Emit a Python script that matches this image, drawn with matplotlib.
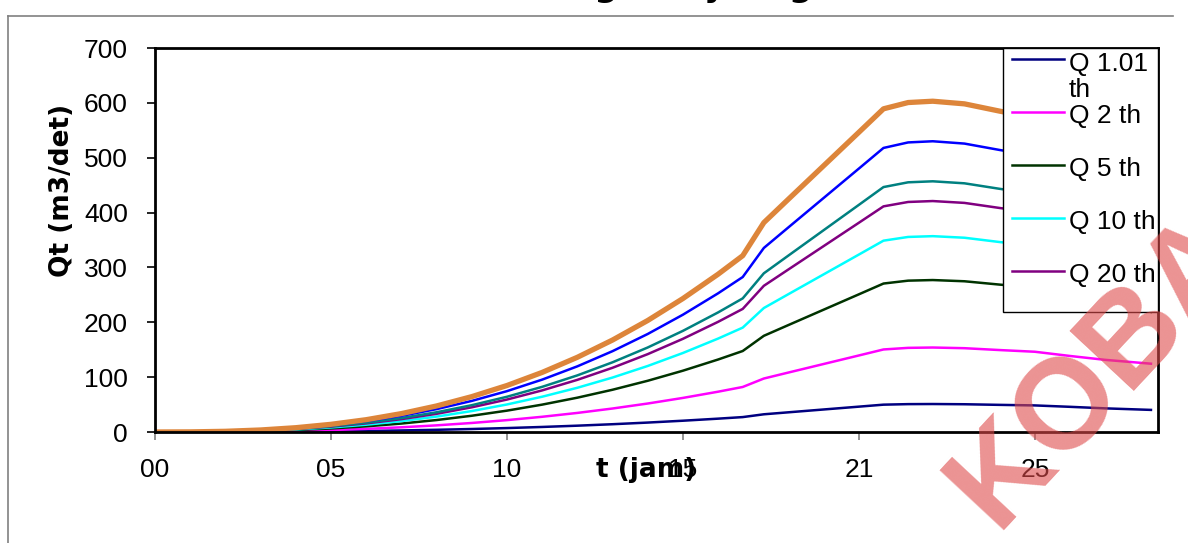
import matplotlib.pyplot as plt
import matplotlib.transforms as mtransforms
from matplotlib.lines import Line2D
from matplotlib.patches import Rectangle

# waktu (jam) dan debit hidrograf tiap kala ulang (m3/det)
jam = [0, 1, 2, 3, 4, 5, 6, 7, 8, 9, 10, 11, 12, 13, 14, 15, 16, 16.7, 17.3,
       18, 19, 20, 20.7, 21.4, 22.1, 23, 24, 25, 26, 27, 28.3]

q_1_01 = [0, 0.02, 0.11, 0.31, 0.66, 1.18, 1.9, 2.84, 4.01, 5.45, 7.17, 9.19,
          11.52, 14.18, 17.19, 20.57, 24.33, 27.18, 32.28, 35.9, 41.06, 46.21,
          49.83, 50.8, 51.0, 50.59, 49.47, 48.45, 45.9, 43.1, 40.29]
q_2 = [0, 0.06, 0.32, 0.94, 2.0, 3.57, 5.73, 8.56, 12.12, 16.46, 21.64, 27.74,
       34.77, 42.81, 51.91, 62.12, 73.46, 82.08, 97.48, 108.42, 123.97, 139.52,
       150.46, 153.38, 154.0, 152.77, 149.38, 146.3, 138.6, 131.5, 124.5]
q_5 = [0, 0.11, 0.58, 1.69, 3.6, 6.43, 10.3, 15.4, 21.8, 29.61, 38.92, 49.89,
       62.55, 77.01, 93.38, 111.74, 132.13, 147.64, 175.34, 195.01, 222.99,
       250.96, 270.63, 275.89, 277.0, 274.78, 268.69, 263.15, 249.3, 234.07,
       218.83]
q_10 = [0, 0.14, 0.75, 2.18, 4.64, 8.28, 13.28, 19.85, 28.1, 38.16, 50.16,
        64.3, 80.61, 99.25, 120.34, 144.01, 170.29, 190.28, 225.98, 251.33,
        287.39, 323.44, 348.79, 355.57, 357.0, 354.14, 346.29, 339.15, 321.3,
        301.67, 282.03]
q_20 = [0, 0.17, 0.88, 2.57, 5.47, 9.77, 15.66, 23.41, 33.13, 45.0, 59.15,
        75.82, 95.06, 117.04, 141.92, 169.83, 200.82, 224.39, 266.49, 296.38,
        338.91, 381.43, 411.32, 419.32, 421.0, 417.63, 408.37, 399.95, 378.9,
        355.75, 332.59]
q_25 = [0, 0.18, 0.96, 2.79, 5.94, 10.6, 17.0, 25.41, 35.97, 48.85, 64.21,
        82.31, 103.19, 127.05, 154.05, 184.35, 217.99, 243.58, 289.28, 321.73,
        367.89, 414.04, 446.49, 455.17, 457.0, 453.34, 443.29, 434.15, 411.3,
        386.17, 361.03]
q_50 = [0, 0.21, 1.11, 3.23, 6.89, 12.3, 19.72, 29.47, 41.71, 56.66, 74.47,
        95.45, 119.67, 147.34, 178.66, 213.8, 252.81, 282.49, 335.49, 373.12,
        426.65, 480.18, 517.81, 527.88, 530.0, 525.76, 514.1, 503.5, 477.0,
        447.85, 418.7]
q_100 = [0, 0.24, 1.27, 3.68, 7.84, 13.99, 22.43, 33.53, 47.46, 64.46, 84.72,
         108.6, 136.16, 167.63, 203.27, 243.25, 287.63, 321.4, 381.7, 424.51,
         485.42, 546.32, 589.13, 600.59, 603.0, 598.18, 584.91, 572.85, 542.7,
         509.54, 476.37]

x_ticks = [0, 5, 10, 15, 20, 25]
x_labels = ["00", "05", "10", "15", "21", "25"]
y_ticks = [0, 100, 200, 300, 400, 500, 600, 700]

series = [
    ("Q 1.01\nth", q_1_01, "#000080", 1.8),
    ("Q 2 th", q_2, "#ff00ff", 1.8),
    ("Q 5 th", q_5, "#003300", 1.8),
    ("Q 10 th", q_10, "#00ffff", 1.8),
    ("Q 20 th", q_20, "#800080", 1.8),
    ("Q 25 th", q_25, "#008080", 1.8),
    ("Q 50 th", q_50, "#0000ff", 1.8),
    ("Q 100 th", q_100, "#dd853a", 3.8),
]

W, H = 1188, 543
fig = plt.figure(figsize=(W / 100, H / 100), dpi=100)
ax = fig.add_axes([155 / W, 1 - 432 / H, 1003 / W, 384 / H])

for label, vals, color, lw in series:
    ax.plot(jam, vals, color=color, lw=lw, solid_joinstyle="round")

ax.set_xlim(0, 28.5)
ax.set_ylim(0, 700)
ax.set_xticks(x_ticks)
ax.set_xticklabels(x_labels)
ax.set_yticks(y_ticks)

for t in ax.get_xticklabels() + ax.get_yticklabels():
    t.set_fontfamily("Liberation Sans")
    t.set_fontsize(19)
# tick labels on x sit a little right of their ticks
shift = mtransforms.ScaledTranslation(0.08, 0, fig.dpi_scale_trans)
for t in ax.get_xticklabels():
    t.set_transform(t.get_transform() + shift)

ax.tick_params(axis="y", direction="out", length=6, width=1.2, pad=13.5, colors="black")
ax.tick_params(axis="x", direction="out", length=6, width=1.2, pad=12.5, color="#808080")
for s in ax.spines.values():
    s.set_linewidth(2.0)
    s.set_color("black")

ax.set_ylabel("Qt (m3/det)", fontsize=19, fontweight="bold")
ax.yaxis.set_label_coords(-0.08, 0.628)
ax.set_xlabel("t (jam)", fontsize=19, fontweight="bold")
ax.xaxis.label.set_verticalalignment("center")
ax.xaxis.set_label_coords(0.49, -0.099)

# legend box with the first five return periods
ax.add_patch(Rectangle((0.8455, 0.3125), 0.1545, 0.6875, transform=ax.transAxes,
                       facecolor="white", edgecolor="black", lw=1.0,
                       zorder=5, clip_on=False))
row_px = [59, 112, 165, 218, 271]
for (label, _, color, lw), py in zip(series[:5], row_px):
    y = (432 - py) / 384
    ax.add_line(Line2D([0.8544, 0.9063], [y, y], transform=ax.transAxes,
                       color=color, lw=1.8, zorder=6, clip_on=False))
    # baseline of the last line of the label
    base = py + 11 + 27 * label.count("\n")
    ax.text(0.9113, (432 - base) / 384, label, transform=ax.transAxes,
            va="baseline", ha="left", family="Liberation Sans", fontsize=19,
            linespacing=1.1, zorder=6, clip_on=False)

# chart area frame
frame = dict(transform=fig.transFigure, color="#808080", lw=1.2)
fig.add_artist(Line2D([8 / W, 8 / W], [0, 1 - 16 / H], **frame))
fig.add_artist(Line2D([8 / W, 1173 / W], [1 - 16 / H, 1 - 16 / H], **frame))

fig.text(605 / W, 1 + 3.8 / H, "Debit Rancangan Hydrograf", ha="center",
         va="baseline", fontsize=24, fontweight="bold")

fig.text(1100 / W, 1 - 370 / H, "KOBA", rotation=47, rotation_mode="anchor",
         ha="center", va="center", family="Liberation Sans", fontsize=92,
         fontweight="bold", color="#de4a4a", alpha=0.6, zorder=20)

fig.savefig("out.png", dpi=100)
